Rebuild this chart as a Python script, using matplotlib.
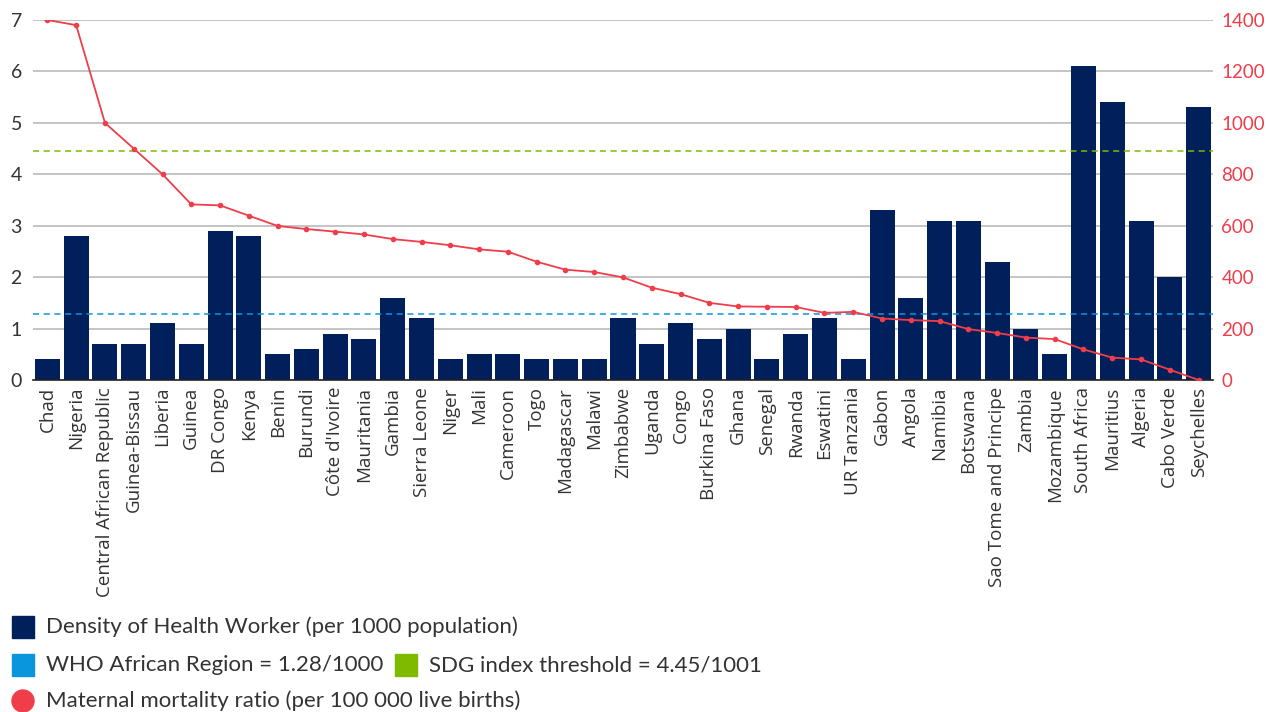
import matplotlib
matplotlib.use('Agg')
from matplotlib import pyplot as plt
from matplotlib.patches import Rectangle, Circle

countries = ['Chad', 'Nigeria', 'Central African Republic', 'Guinea-Bissau', 'Liberia',
             'Guinea', 'DR Congo', 'Kenya', 'Benin', 'Burundi', "Côte d'Ivoire",
             'Mauritania', 'Gambia', 'Sierra Leone', 'Niger', 'Mali', 'Cameroon', 'Togo',
             'Madagascar', 'Malawi', 'Zimbabwe', 'Uganda', 'Congo', 'Burkina Faso',
             'Ghana', 'Senegal', 'Rwanda', 'Eswatini', 'UR Tanzania', 'Gabon', 'Angola',
             'Namibia', 'Botswana', 'Sao Tome and Principe', 'Zambia', 'Mozambique',
             'South Africa', 'Mauritius', 'Algeria', 'Cabo Verde', 'Seychelles']

# health workers per 1000 population
density = [0.4, 2.8, 0.7, 0.7, 1.1, 0.7, 2.9, 2.8, 0.5, 0.6, 0.9, 0.8, 1.6, 1.2,
           0.4, 0.5, 0.5, 0.4, 0.4, 0.4, 1.2, 0.7, 1.1, 0.8, 1.0, 0.4, 0.9, 1.2,
           0.4, 3.3, 1.6, 3.1, 3.1, 2.3, 1.0, 0.5, 6.1, 5.4, 3.1, 2.0, 5.3]

# maternal deaths per 100 000 live births
mmr = [1400, 1380, 1000, 900, 800, 683, 679, 639, 599, 587, 577, 566, 548, 537,
       524, 508, 499, 460, 429, 420, 399, 359, 334, 300, 286, 285, 284, 261,
       265, 239, 233, 229, 198, 183, 165, 159, 119, 87, 80, 40, 0]

who_region = 1.28
sdg_threshold = 4.45

navy = '#001f5b'
red = '#ef3e4a'
blue = '#0a96dc'
green = '#7fba00'

fig = plt.figure(figsize=(12.66, 7.12), dpi=100)
ax = fig.add_axes([33 / 1266, 1 - 380 / 712, 1180 / 1266, 360 / 712])

x = list(range(len(countries)))
ax.bar(x, density, width=0.87, color=navy, zorder=2)
ax.axhline(who_region, color=blue, lw=1.1, ls=(0, (4, 3)), zorder=3)
ax.axhline(sdg_threshold, color=green, lw=1.1, ls=(0, (4, 3)), zorder=3)

ax.set_xlim(-0.5, len(countries) - 0.5)
ax.set_ylim(0, 7)
ax.set_yticks(range(8))
ax.yaxis.grid(True, color='#b4b4b4', lw=1.1, zorder=0)
ax.set_axisbelow(True)
for side in ['top', 'right', 'left']:
    ax.spines[side].set_visible(False)
ax.spines['bottom'].set_color('#222222')
ax.spines['bottom'].set_linewidth(1.2)
ax.tick_params(axis='both', length=0)
ax.tick_params(axis='y', labelsize=14, labelcolor='#333333', pad=8)
ax.set_xticks(x)
ax.set_xticklabels(countries, rotation=90, fontsize=13.5, color='#333333',
                   family='Open Sans')
ax.tick_params(axis='x', pad=5)

ax2 = ax.twinx()
ax2.plot(x, mmr, color=red, lw=1.3, marker='o', ms=3, zorder=4)
ax2.set_ylim(0, 1400)
ax2.set_yticks(range(0, 1401, 200))
for side in ['top', 'right', 'left', 'bottom']:
    ax2.spines[side].set_visible(False)
ax2.tick_params(axis='y', length=0, labelsize=13.5, labelcolor=red, pad=6)

for lab in ax.get_yticklabels() + ax2.get_yticklabels():
    lab.set_family('Lato')


# legend drawn by hand in pixel coordinates
def px(xp, yp):
    return xp / 1266, 1 - yp / 712


def legend_entry(xp, yc, color, text, round_marker=False):
    if round_marker:
        patch = Circle((xp + 11, 712 - yc), 11, color=color, transform=None)
    else:
        patch = Rectangle(px(xp, yc + 11), 22 / 1266, 22 / 712, color=color,
                          transform=fig.transFigure)
    fig.add_artist(patch)
    fig.text(*px(xp + 34, yc), text, fontsize=16, color='#333333',
             va='center', ha='left', family='Lato')


legend_entry(12, 627, navy, 'Density of Health Worker (per 1000 population)')
legend_entry(12, 665, blue, 'WHO African Region = 1.28/1000')
legend_entry(395, 665, green, 'SDG index threshold = 4.45/1001')
legend_entry(12, 701, red, 'Maternal mortality ratio (per 100 000 live births)',
             round_marker=True)

fig.savefig('out.png', dpi=100)
